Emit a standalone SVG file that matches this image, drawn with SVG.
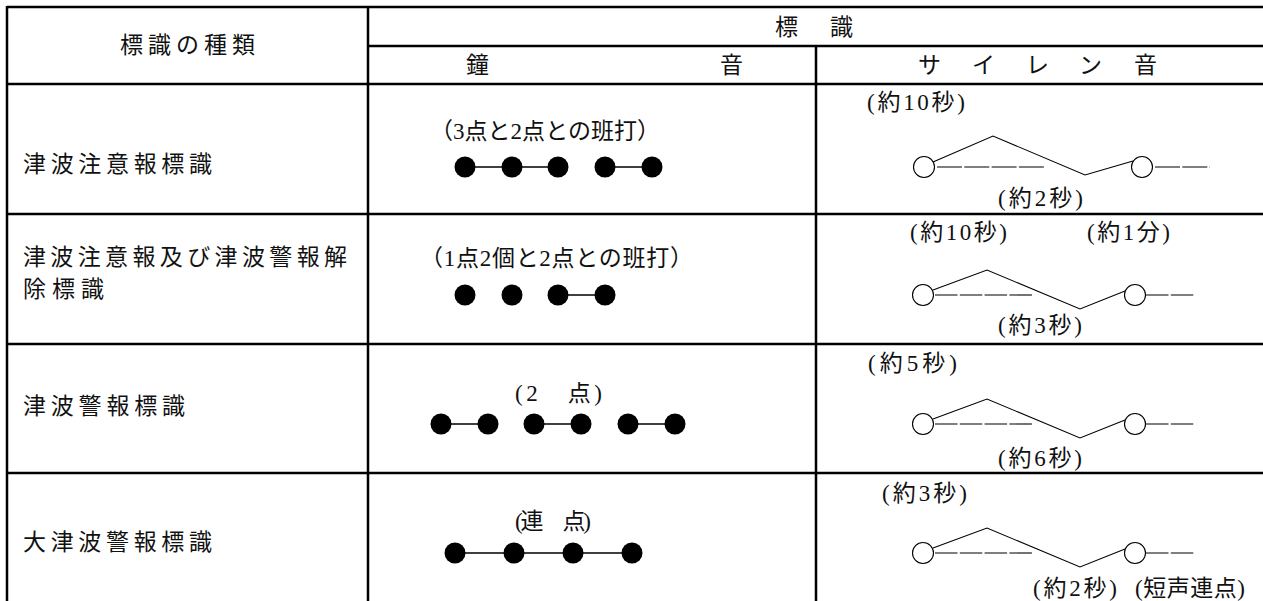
<svg xmlns="http://www.w3.org/2000/svg" xmlns:xlink="http://www.w3.org/1999/xlink" width="1263" height="601" viewBox="0 0 1263 601">
<style>
  .grid { stroke: #000; stroke-width: 2.5; fill: none; }
  .g { font-family: "Noto Sans CJK JP", "Noto Sans", sans-serif; font-size: 23px; fill: #111; dominant-baseline: central; }
  .m { font-family: "Liberation Serif", "Noto Sans CJK JP", serif; font-size: 23px; fill: #111; dominant-baseline: central; }
  .dot { fill: #000; }
  .link { stroke: #000; stroke-width: 1.3; }
  .sl { stroke: #000; stroke-width: 1.1; fill: none; }
  .dash { stroke: #000; stroke-width: 1.1; stroke-dasharray: 22.5 2.3; fill: none; }
  .dash1 { stroke: #000; stroke-width: 1.1; stroke-dasharray: 25 2.3; fill: none; }
  .ring { stroke: #000; stroke-width: 1.1; fill: #fff; }
</style>
<defs>
  <g id="siren">
    <line class="dash" x1="935" y1="0" x2="1032" y2="0"/>
    <polyline class="sl" points="933,-5 987,-25 1080,14 1125,-4"/>
    <circle class="ring" cx="923" cy="0" r="10.5"/>
    <circle class="ring" cx="1135" cy="0" r="10.5"/>
    <line class="dash" x1="1146" y1="0" x2="1195" y2="0"/>
  </g>
</defs>
<rect width="1263" height="601" fill="#fff"/>

<g id="connectors">
  <line class="grid" x1="7" y1="7" x2="1263" y2="7"/>
  <line class="grid" x1="368" y1="46" x2="1263" y2="46"/>
  <line class="grid" x1="7" y1="84" x2="1263" y2="84"/>
  <line class="grid" x1="7" y1="214" x2="1263" y2="214"/>
  <line class="grid" x1="7" y1="344" x2="1263" y2="344"/>
  <line class="grid" x1="7" y1="473" x2="1263" y2="473"/>
  <line class="grid" x1="7" y1="6" x2="7" y2="601"/>
  <line class="grid" x1="368" y1="6" x2="368" y2="601"/>
  <line class="grid" x1="816" y1="46" x2="816" y2="601"/>
</g>

<g id="header">
  <text class="m" x="120" y="45" textLength="135" lengthAdjust="spacing">標識の種類</text>
  <text class="m" x="775 830" y="27">標識</text>
  <text class="m" x="466 720" y="65">鐘音</text>
  <text class="m" x="918 972 1026 1079 1134" y="65">サイレン音</text>
</g>

<g id="row1">
  <text class="g" x="23" y="162" textLength="189" lengthAdjust="spacing">津波注意報標識</text>
  <text class="m" x="430" y="131" textLength="230" lengthAdjust="spacing">（3点と2点との班打）</text>
  <line class="link" x1="465" y1="167" x2="558" y2="167"/>
  <line class="link" x1="605" y1="167" x2="652" y2="167"/>
  <circle class="dot" cx="465" cy="167" r="10.5"/>
  <circle class="dot" cx="512" cy="167" r="10.5"/>
  <circle class="dot" cx="558" cy="167" r="10.5"/>
  <circle class="dot" cx="605" cy="167" r="10.5"/>
  <circle class="dot" cx="652" cy="167" r="10.5"/>
  <text class="m" x="867" y="102" textLength="98" lengthAdjust="spacing">(約10秒)</text>
  <line class="dash1" x1="937" y1="167" x2="1046" y2="167"/>
  <polyline class="sl" points="933,162 993,136 1085,175 1133,161"/>
  <circle class="ring" cx="924" cy="167" r="10.5"/>
  <circle class="ring" cx="1142" cy="167" r="10.5"/>
  <line class="dash1" x1="1155" y1="167" x2="1210" y2="167"/>
  <text class="m" x="998" y="198" textLength="85" lengthAdjust="spacing">(約2秒)</text>
</g>

<g id="row2">
  <text class="g" x="23" y="255" textLength="324" lengthAdjust="spacing">津波注意報及び津波警報解</text>
  <text class="g" x="23" y="287" textLength="81" lengthAdjust="spacing">除標識</text>
  <text class="m" x="420" y="258" textLength="273" lengthAdjust="spacing">（1点2個と2点との班打）</text>
  <line class="link" x1="558" y1="295" x2="605" y2="295"/>
  <circle class="dot" cx="465" cy="295" r="10.5"/>
  <circle class="dot" cx="512" cy="295" r="10.5"/>
  <circle class="dot" cx="558" cy="295" r="10.5"/>
  <circle class="dot" cx="605" cy="295" r="10.5"/>
  <text class="m" x="910" y="232" textLength="97" lengthAdjust="spacing">(約10秒)</text>
  <text class="m" x="1087" y="232" textLength="83" lengthAdjust="spacing">(約1分)</text>
  <use xlink:href="#siren" href="#siren" transform="translate(0,295)"/>
  <text class="m" x="998" y="325" textLength="84" lengthAdjust="spacing">(約3秒)</text>
</g>

<g id="row3">
  <text class="g" x="23" y="404" textLength="162" lengthAdjust="spacing">津波警報標識</text>
  <text class="m" x="515" y="393" textLength="87" lengthAdjust="spacing">(2　点)</text>
  <line class="link" x1="441" y1="424" x2="488" y2="424"/>
  <line class="link" x1="534" y1="424" x2="581" y2="424"/>
  <line class="link" x1="628" y1="424" x2="675" y2="424"/>
  <circle class="dot" cx="441" cy="424" r="10.5"/>
  <circle class="dot" cx="488" cy="424" r="10.5"/>
  <circle class="dot" cx="534" cy="424" r="10.5"/>
  <circle class="dot" cx="581" cy="424" r="10.5"/>
  <circle class="dot" cx="628" cy="424" r="10.5"/>
  <circle class="dot" cx="675" cy="424" r="10.5"/>
  <text class="m" x="868" y="363" textLength="89" lengthAdjust="spacing">(約5秒)</text>
  <use xlink:href="#siren" href="#siren" transform="translate(0,424)"/>
  <text class="m" x="998" y="458" textLength="84" lengthAdjust="spacing">(約6秒)</text>
</g>

<g id="row4">
  <text class="g" x="23" y="540" textLength="189" lengthAdjust="spacing">大津波警報標識</text>
  <text class="m" x="515" y="521" textLength="76" lengthAdjust="spacing">(連　点)</text>
  <line class="link" x1="455" y1="553" x2="632" y2="553"/>
  <circle class="dot" cx="455" cy="553" r="10.5"/>
  <circle class="dot" cx="514" cy="553" r="10.5"/>
  <circle class="dot" cx="573" cy="553" r="10.5"/>
  <circle class="dot" cx="632" cy="553" r="10.5"/>
  <text class="m" x="882" y="493" textLength="85" lengthAdjust="spacing">(約3秒)</text>
  <use xlink:href="#siren" href="#siren" transform="translate(0,553)"/>
  <text class="m" x="1033" y="588" textLength="84" lengthAdjust="spacing">(約2秒)</text>
  <text class="m" x="1135" y="588" textLength="110" lengthAdjust="spacing">(短声連点)</text>
</g>
</svg>
